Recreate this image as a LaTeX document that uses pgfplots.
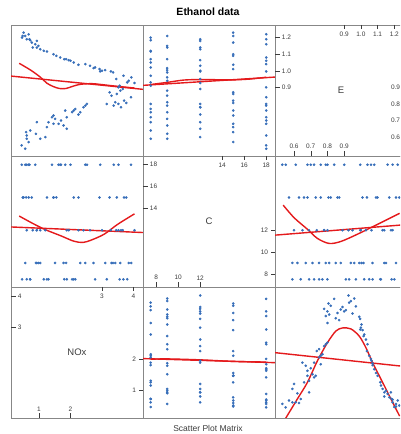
\documentclass[border=0pt]{standalone}
\usepackage{pgfplots}
\pgfplotsset{compat=1.18}
\usepackage{pgfplotstable}
\usepackage{fontspec}
\setmainfont{Liberation Sans}
\definecolor{ptblue}{RGB}{55,110,185}
\definecolor{lnred}{RGB}{228,26,28}
\definecolor{brd}{RGB}{135,135,135}
\definecolor{tkc}{RGB}{60,60,60}
\pgfplotstableread{
NOx C E
4.03 12 0.926
3.93 9 0.96
3.92 18 0.84
3.77 15 0.806
3.68 7.5 0.97
3.66 12 0.89
3.58 9 0.88
3.52 18 0.90
3.47 15 0.86
3.56 7.5 0.91
3.52 12 0.80
3.42 9 0.81
3.37 18 0.79
3.24 15 0.87
3.15 7.5 0.80
3.28 12 0.996
3.10 9 1.004
2.94 18 0.996
2.92 15 1.01
2.78 7.5 1.02
2.62 12 1.03
2.73 9 1.016
2.47 18 1.04
2.25 15 1.036
2.10 7.5 1.05
1.94 12 1.064
1.86 9 1.07
1.67 18 1.08
1.46 15 1.10
1.25 7.5 1.116
1.04 12 1.13
0.98 9 1.15
0.88 18 1.16
0.77 15 1.17
0.72 7.5 1.184
0.61 12 1.19
0.56 9 1.21
0.67 18 1.22
0.51 15 1.23
0.46 7.5 1.20
0.93 12 1.18
0.93 9 1.14
0.56 18 0.53
0.67 15 0.57
0.61 7.5 0.59
1.20 12 0.60
1.04 9 0.59
0.61 18 0.61
0.59 15 0.63
0.72 7.5 0.64
1.88 12 0.65
1.78 9 0.67
1.62 18 0.68
1.46 15 0.68
1.30 7.5 0.69
0.93 12 0.69
1.51 9 0.71
1.41 18 0.72
1.46 15 0.73
1.88 7.5 0.72
2.25 12 0.736
2.31 9 0.75
1.83 18 0.76
2.10 15 0.76
2.15 7.5 0.77
2.41 12 0.78
2.47 9 0.79
2.52 18 0.80
3.70 15 0.82
3.80 7.5 0.93
3.45 12 0.95
3.35 9 0.99
2.00 18 1.06
1.55 15 1.09
1.15 7.5 1.12
0.80 12 1.14
0.90 9 0.62
1.70 18 0.70
1.25 15 0.66
2.05 7.5 0.75
3.00 12 1.00
3.30 9 0.85
0.45 18 0.55
0.48 15 1.21
1.80 7.5 1.07
3.60 12 0.78
3.85 9 0.94
0.70 18 1.19
}\ethanol
\pgfplotsset{
  panel/.style={scale only axis, width=132pt, height=131pt, anchor=south west,
    xtick=\empty, ytick=\empty, axis line style={draw=brd, line width=0.9pt}},
  pts/.style={only marks, color=ptblue, mark=*, mark size=1.1pt, mark options={draw=none, fill=ptblue}},
  fit/.style={no marks, color=lnred, line width=1.4pt},
}
\tikzset{
  tk/.style={draw=tkc, line width=0.5pt},
  tl/.style={font=\fontsize{6.5}{7}\selectfont, text=tkc, inner sep=2.2pt},
  vn/.style={font=\fontsize{9.5}{10}\selectfont, text=tkc},
}
% left/top/bottom/right tick with label, inside the panel
\newcommand\tkL[2]{\draw[tk] (axis cs:#1,#2) -- ([xshift=4.5pt]axis cs:#1,#2) node[tl, anchor=west] {#2};}
\newcommand\tkT[2]{\draw[tk] (axis cs:#1,#2) -- ([yshift=-4.5pt]axis cs:#1,#2) node[tl, anchor=north] {#1};}
\newcommand\tkB[2]{\draw[tk] (axis cs:#1,#2) -- ([yshift=4.5pt]axis cs:#1,#2) node[tl, anchor=south] {#1};}
\newcommand\tkR[2]{\draw[tk] (axis cs:#1,#2) -- ([xshift=-4.5pt]axis cs:#1,#2) node[tl, anchor=east] {#2};}
\begin{document}
\begin{tikzpicture}
\path[use as bounding box] (0,0) rectangle (400pt,434pt);
\clip (0,0) rectangle (400pt,434pt);
\node[font=\bfseries\fontsize{10.5}{12}\selectfont] at (208pt,422pt) {Ethanol data};
\node[font=\fontsize{8.5}{10}\selectfont, text=tkc] at (208pt,6pt) {Scatter Plot Matrix};

% row 1, col 1: x=NOx, y=E
\begin{axis}[panel, at={(11pt,278pt)}, xmin=0.11, xmax=4.3, ymin=0.486, ymax=1.276]
\addplot[pts] table[x=NOx, y=E] {\ethanol};
\addplot[fit] coordinates {(0.11,0.968) (4.3,0.888)};
\addplot[fit, smooth] coordinates {(0.37,1.045) (0.75,1.002) (1.05,0.96) (1.25,0.925) (1.45,0.905) (1.65,0.893) (1.85,0.893) (2.05,0.905) (2.3,0.918) (2.7,0.922) (3.2,0.912) (3.7,0.902) (4.03,0.896)};
\end{axis}

% row 1, col 2: x=C, y=E
\begin{axis}[panel, at={(143pt,278pt)}, xmin=6.8, xmax=18.8, ymin=0.486, ymax=1.276]
\addplot[pts] table[x=C, y=E] {\ethanol};
\addplot[fit] coordinates {(6.8,0.912) (18.8,0.962)};
\addplot[fit, smooth] coordinates {(7.5,0.917) (9,0.930) (10.5,0.944) (12,0.947) (13.5,0.946) (15,0.945) (16.5,0.950) (18,0.961)};
\end{axis}

% row 1, col 3: diagonal E
\begin{axis}[panel, at={(275pt,278pt)}, xmin=0.486, xmax=1.276, ymin=0.486, ymax=1.276, clip=false]
\node[vn] at (rel axis cs:0.5,0.5) {E};
\tkL{0.486}{0.9}\tkL{0.486}{1.0}\tkL{0.486}{1.1}\tkL{0.486}{1.2}
\tkT{0.9}{1.276}\tkT{1.0}{1.276}\tkT{1.1}{1.276}\tkT{1.2}{1.276}
\tkB{0.6}{0.486}\tkB{0.7}{0.486}\tkB{0.8}{0.486}\tkB{0.9}{0.486}
\tkR{1.276}{0.6}\tkR{1.276}{0.7}\tkR{1.276}{0.8}\tkR{1.276}{0.9}
\end{axis}

% row 2, col 1: x=NOx, y=C
\begin{axis}[panel, at={(11pt,147pt)}, xmin=0.11, xmax=4.3, ymin=6.8, ymax=18.8]
\addplot[pts] table[x=NOx, y=C] {\ethanol};
\addplot[fit] coordinates {(0.11,12.30) (4.3,11.79)};
\addplot[fit, smooth] coordinates {(0.37,13.3) (0.75,12.7) (1.17,12.09) (1.7,11.48) (2.1,11.0) (2.39,10.88) (2.65,11.09) (3.07,11.64) (3.5,12.55) (4.03,13.5)};
\end{axis}

% row 2, col 2: diagonal C
\begin{axis}[panel, at={(143pt,147pt)}, xmin=6.8, xmax=18.8, ymin=6.8, ymax=18.8, clip=false]
\node[vn] at (rel axis cs:0.5,0.5) {C};
\tkL{6.8}{14}\tkL{6.8}{16}\tkL{6.8}{18}
\tkT{14}{18.8}\tkT{16}{18.8}\tkT{18}{18.8}
\tkB{8}{6.8}\tkB{10}{6.8}\tkB{12}{6.8}
\tkR{18.8}{8}\tkR{18.8}{10}\tkR{18.8}{12}
\end{axis}

% row 2, col 3: x=E, y=C
\begin{axis}[panel, at={(275pt,147pt)}, xmin=0.486, xmax=1.276, ymin=6.8, ymax=18.8]
\addplot[pts] table[x=E, y=C] {\ethanol};
\addplot[fit] coordinates {(0.486,11.55) (1.276,12.52)};
\addplot[fit, smooth] coordinates {(0.535,14.3) (0.60,13.15) (0.68,12.09) (0.74,11.25) (0.81,10.79) (0.88,10.97) (0.98,11.64) (1.08,12.39) (1.16,13.0) (1.232,13.55)};
\end{axis}

% row 3, col 1: diagonal NOx
\begin{axis}[panel, at={(11pt,16pt)}, xmin=0.11, xmax=4.3, ymin=0.11, ymax=4.3, clip=false]
\node[vn] at (rel axis cs:0.5,0.5) {NOx};
\tkL{0.11}{3}\tkL{0.11}{4}
\tkT{3}{4.3}\tkT{4}{4.3}
\tkB{1}{0.11}\tkB{2}{0.11}
\tkR{4.3}{1}\tkR{4.3}{2}
\end{axis}

% row 3, col 2: x=C, y=NOx
\begin{axis}[panel, at={(143pt,16pt)}, xmin=6.8, xmax=18.8, ymin=0.11, ymax=4.3]
\addplot[pts] table[x=C, y=NOx] {\ethanol};
\addplot[fit] coordinates {(6.8,2.01) (18.8,1.88)};
\addplot[fit, smooth] coordinates {(7.5,1.99) (9,2.00) (12,1.97) (15,1.92) (18,1.90)};
\end{axis}

% row 3, col 3: x=E, y=NOx
\begin{axis}[panel, at={(275pt,16pt)}, xmin=0.486, xmax=1.276, ymin=0.11, ymax=4.3]
\addplot[pts] table[x=E, y=NOx] {\ethanol};
\addplot[fit] coordinates {(0.486,2.20) (1.276,1.75)};
\addplot[fit, smooth] coordinates {(0.535,-0.03) (0.62,0.72) (0.68,1.25) (0.74,1.94) (0.80,2.52) (0.85,2.89) (0.89,2.99) (0.94,2.96) (0.99,2.73) (1.03,2.36) (1.07,1.88) (1.11,1.46) (1.16,0.93) (1.21,0.40) (1.232,0.17)};
\end{axis}
\end{tikzpicture}
\end{document}
